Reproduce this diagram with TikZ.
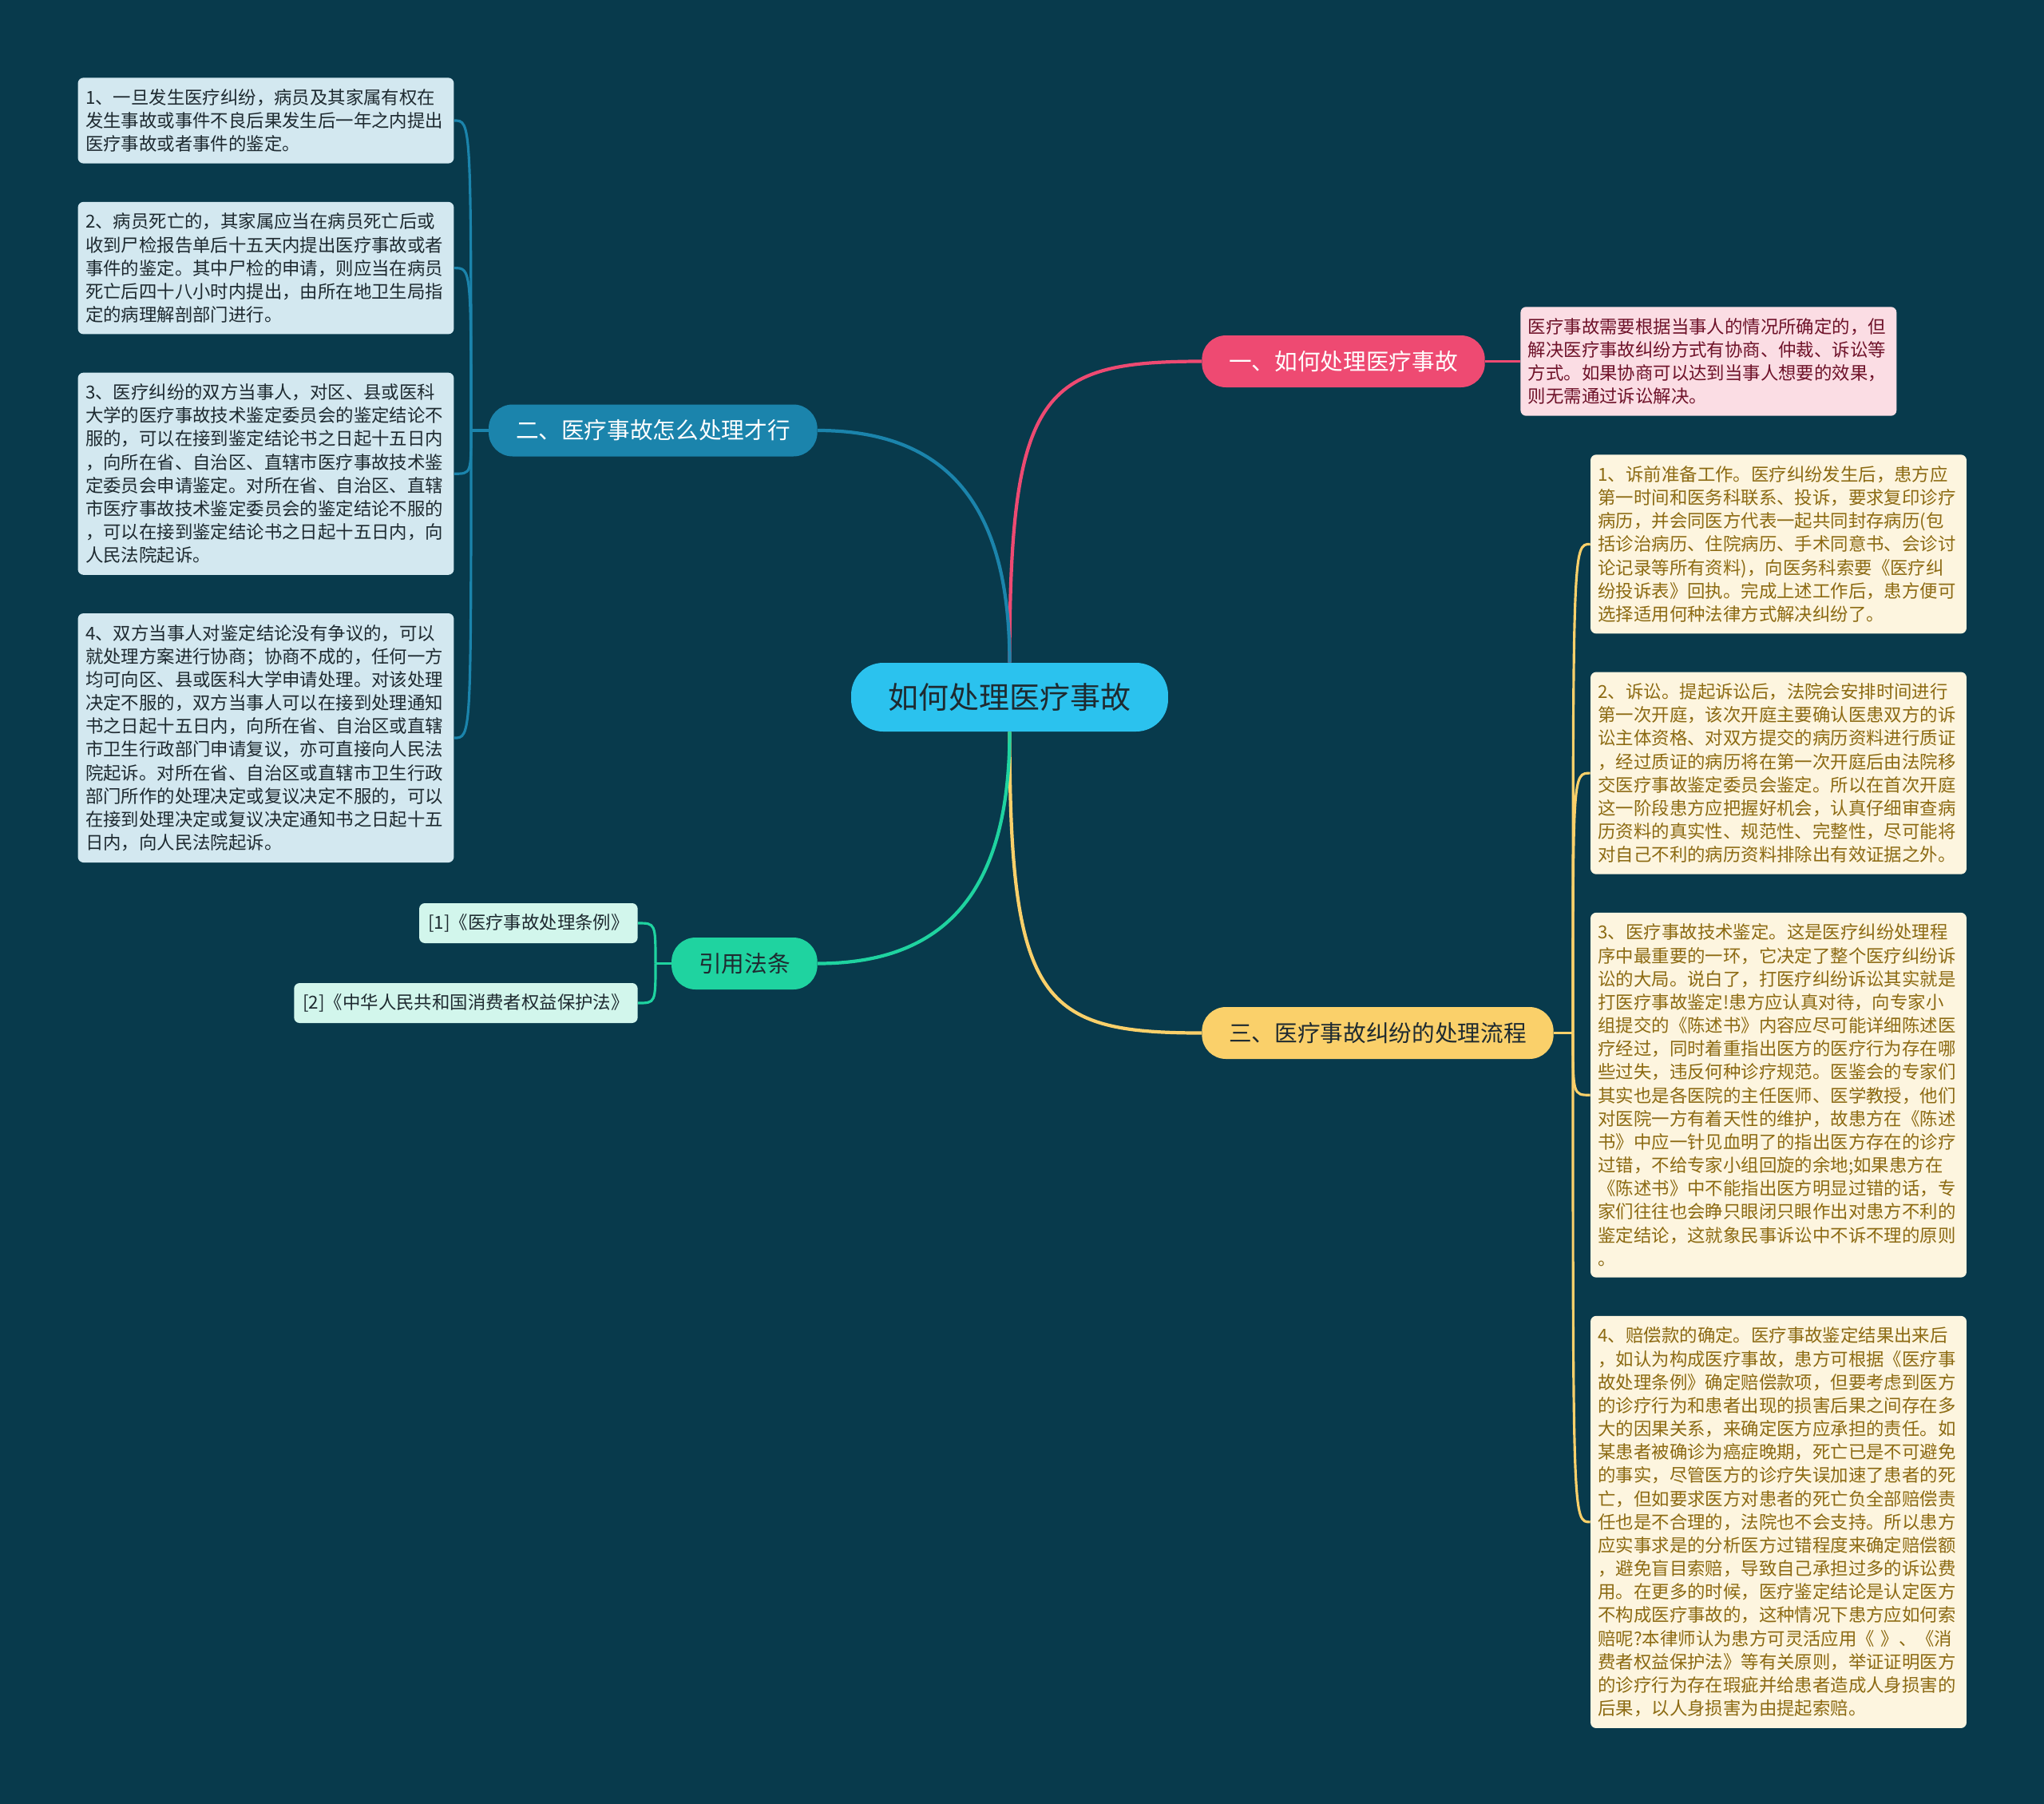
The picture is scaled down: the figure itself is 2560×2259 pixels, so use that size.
\documentclass[tikz,border=0pt]{standalone}
\usepackage{fontspec}
\setmainfont{Noto Sans CJK SC}
\usepackage{xcolor}
\usepackage{tikz}
\usetikzlibrary{positioning}

\definecolor{bgteal}{HTML}{083A4C}
\definecolor{topicblue}{HTML}{2BC2EE}
\definecolor{pinkmain}{HTML}{EE4A72}
\definecolor{pinknote}{HTML}{FBDDE4}
\definecolor{pinktext}{HTML}{6E1229}
\definecolor{bluemain}{HTML}{1B84AC}
\definecolor{bluenote}{HTML}{D3E8F0}
\definecolor{yellowmain}{HTML}{FAD06A}
\definecolor{yellownote}{HTML}{FDF5DF}
\definecolor{yellowtext}{HTML}{8C6A12}
\definecolor{greenmain}{HTML}{1FD3A0}
\definecolor{greennote}{HTML}{D2F6EC}
\definecolor{darktext}{HTML}{1E2A30}

\begin{document}
\begin{tikzpicture}[
    x=0.02cm, y=-0.02cm,
    node distance=0.95cm,
    topic/.style={rectangle, rounded corners=0.8cm, fill=topicblue, text=darktext, minimum width=7.94cm, minimum height=1.72cm, font=\fontsize{21.6}{26}\selectfont},
    branch/.style={rectangle, rounded corners=0.6cm, inner xsep=0.68cm, minimum height=1.3cm, font=\fontsize{16.3}{20}\selectfont},
    note/.style={rectangle, rounded corners=0.14cm, text width=9.04cm, inner xsep=0.19cm, inner ysep=8pt, align=left, font=\fontsize{12.75}{16.6}\selectfont},
    ref/.style={rectangle, rounded corners=0.14cm, fill=greennote, text=darktext, inner xsep=0.22cm, minimum height=1cm, font=\fontsize{12.75}{16.6}\selectfont},
    link/.style={line width=2.4pt},
    twig/.style={line width=1.8pt}
]

\fill[bgteal] (0,0) rectangle (2560,2259);

\node[topic] (topic) at (1264.5,873) {如何处理医疗事故};

% branch one
\node[branch, fill=pinkmain, text=white, anchor=west] (how) at (1505,452.5) {一、如何处理医疗事故};
\node[note, fill=pinknote, text=pinktext, right=0.88cm of how] (hownote) {医疗事故需要根据当事人的情况所确定的，但\\解决医疗事故纠纷方式有协商、仲裁、诉讼等\\方式。如果协商可以达到当事人想要的效果，\\则无需通过诉讼解决。};

% branch two
\node[branch, fill=bluemain, text=white, anchor=east] (deal) at (1024,539) {二、医疗事故怎么处理才行};
\node[note, fill=bluenote, text=darktext, anchor=north] (deal1) at (333,97) {1、一旦发生医疗纠纷，病员及其家属有权在\\发生事故或事件不良后果发生后一年之内提出\\医疗事故或者事件的鉴定。};
\node[note, fill=bluenote, text=darktext, below=of deal1] (deal2) {2、病员死亡的，其家属应当在病员死亡后或\\收到尸检报告单后十五天内提出医疗事故或者\\事件的鉴定。其中尸检的申请，则应当在病员\\死亡后四十八小时内提出，由所在地卫生局指\\定的病理解剖部门进行。};
\node[note, fill=bluenote, text=darktext, below=of deal2] (deal3) {3、医疗纠纷的双方当事人，对区、县或医科\\大学的医疗事故技术鉴定委员会的鉴定结论不\\服的，可以在接到鉴定结论书之日起十五日内\\，向所在省、自治区、直辖市医疗事故技术鉴\\定委员会申请鉴定。对所在省、自治区、直辖\\市医疗事故技术鉴定委员会的鉴定结论不服的\\，可以在接到鉴定结论书之日起十五日内，向\\人民法院起诉。};
\node[note, fill=bluenote, text=darktext, below=of deal3] (deal4) {4、双方当事人对鉴定结论没有争议的，可以\\就处理方案进行协商；协商不成的，任何一方\\均可向区、县或医科大学申请处理。对该处理\\决定不服的，双方当事人可以在接到处理通知\\书之日起十五日内，向所在省、自治区或直辖\\市卫生行政部门申请复议，亦可直接向人民法\\院起诉。对所在省、自治区或直辖市卫生行政\\部门所作的处理决定或复议决定不服的，可以\\在接到处理决定或复议决定通知书之日起十五\\日内，向人民法院起诉。};

% branch three
\node[branch, fill=yellowmain, text=darktext, anchor=west] (flow) at (1505,1293.5) {三、医疗事故纠纷的处理流程};
\node[note, fill=yellownote, text=yellowtext, anchor=north] (flow1) at (2227.5,569) {1、诉前准备工作。医疗纠纷发生后，患方应\\第一时间和医务科联系、投诉，要求复印诊疗\\病历，并会同医方代表一起共同封存病历(包\\括诊治病历、住院病历、手术同意书、会诊讨\\论记录等所有资料)，向医务科索要《医疗纠\\纷投诉表》回执。完成上述工作后，患方便可\\选择适用何种法律方式解决纠纷了。};
\node[note, fill=yellownote, text=yellowtext, below=of flow1] (flow2) {2、诉讼。提起诉讼后，法院会安排时间进行\\第一次开庭，该次开庭主要确认医患双方的诉\\讼主体资格、对双方提交的病历资料进行质证\\，经过质证的病历将在第一次开庭后由法院移\\交医疗事故鉴定委员会鉴定。所以在首次开庭\\这一阶段患方应把握好机会，认真仔细审查病\\历资料的真实性、规范性、完整性，尽可能将\\对自己不利的病历资料排除出有效证据之外。};
\node[note, fill=yellownote, text=yellowtext, below=of flow2] (flow3) {3、医疗事故技术鉴定。这是医疗纠纷处理程\\序中最重要的一环，它决定了整个医疗纠纷诉\\讼的大局。说白了，打医疗纠纷诉讼其实就是\\打医疗事故鉴定!患方应认真对待，向专家小\\组提交的《陈述书》内容应尽可能详细陈述医\\疗经过，同时着重指出医方的医疗行为存在哪\\些过失，违反何种诊疗规范。医鉴会的专家们\\其实也是各医院的主任医师、医学教授，他们\\对医院一方有着天性的维护，故患方在《陈述\\书》中应一针见血明了的指出医方存在的诊疗\\过错，不给专家小组回旋的余地;如果患方在\\《陈述书》中不能指出医方明显过错的话，专\\家们往往也会睁只眼闭只眼作出对患方不利的\\鉴定结论，这就象民事诉讼中不诉不理的原则\\。};
\node[note, fill=yellownote, text=yellowtext, below=of flow3] (flow4) {4、赔偿款的确定。医疗事故鉴定结果出来后\\，如认为构成医疗事故，患方可根据《医疗事\\故处理条例》确定赔偿款项，但要考虑到医方\\的诊疗行为和患者出现的损害后果之间存在多\\大的因果关系，来确定医方应承担的责任。如\\某患者被确诊为癌症晚期，死亡已是不可避免\\的事实，尽管医方的诊疗失误加速了患者的死\\亡，但如要求医方对患者的死亡负全部赔偿责\\任也是不合理的，法院也不会支持。所以患方\\应实事求是的分析医方过错程度来确定赔偿额\\，避免盲目索赔，导致自己承担过多的诉讼费\\用。在更多的时候，医疗鉴定结论是认定医方\\不构成医疗事故的，这种情况下患方应如何索\\赔呢?本律师认为患方可灵活应用《 》、《消\\费者权益保护法》等有关原则，举证证明医方\\的诊疗行为存在瑕疵并给患者造成人身损害的\\后果，以人身损害为由提起索赔。};

% branch four
\node[branch, fill=greenmain, text=darktext, anchor=east] (law) at (1024,1206.5) {引用法条};
\node[ref, anchor=east] (law1) at (799,1156) {[1]《医疗事故处理条例》};
\node[ref, anchor=east] (law2) at (799,1256) {[2]《中华人民共和国消费者权益保护法》};

% junctions
\coordinate (dealj) at (590,539);
\coordinate (flowj) at (1970,1293.5);
\coordinate (lawj) at (821,1206.5);

% main links
\draw[link, pinkmain] (topic.north) .. controls +(0,-340) and +(-200,0) .. (how.west);
\draw[link, bluemain] (topic.north) .. controls +(0,-200) and +(160,0) .. (deal.east);
\draw[link, yellowmain] (topic.south) .. controls +(0,340) and +(-200,0) .. (flow.west);
\draw[link, greenmain] (topic.south) .. controls +(0,200) and +(160,0) .. (law.east);

% leaf links
\draw[twig, pinkmain] (how.east) -- (hownote.west);
\draw[twig, bluemain] (deal.west) -- (dealj);
\foreach \n in {deal1,deal2,deal3,deal4}
    \draw[twig, bluemain] (dealj) .. controls (dealj |- \n.east) .. (\n.east);
\draw[twig, yellowmain] (flow.east) -- (flowj);
\foreach \n in {flow1,flow2,flow3,flow4}
    \draw[twig, yellowmain] (flowj) .. controls (flowj |- \n.west) .. (\n.west);
\draw[twig, greenmain] (law.west) -- (lawj);
\foreach \n in {law1,law2}
    \draw[twig, greenmain] (lawj) .. controls (lawj |- \n.east) .. (\n.east);

\end{tikzpicture}
\end{document}
